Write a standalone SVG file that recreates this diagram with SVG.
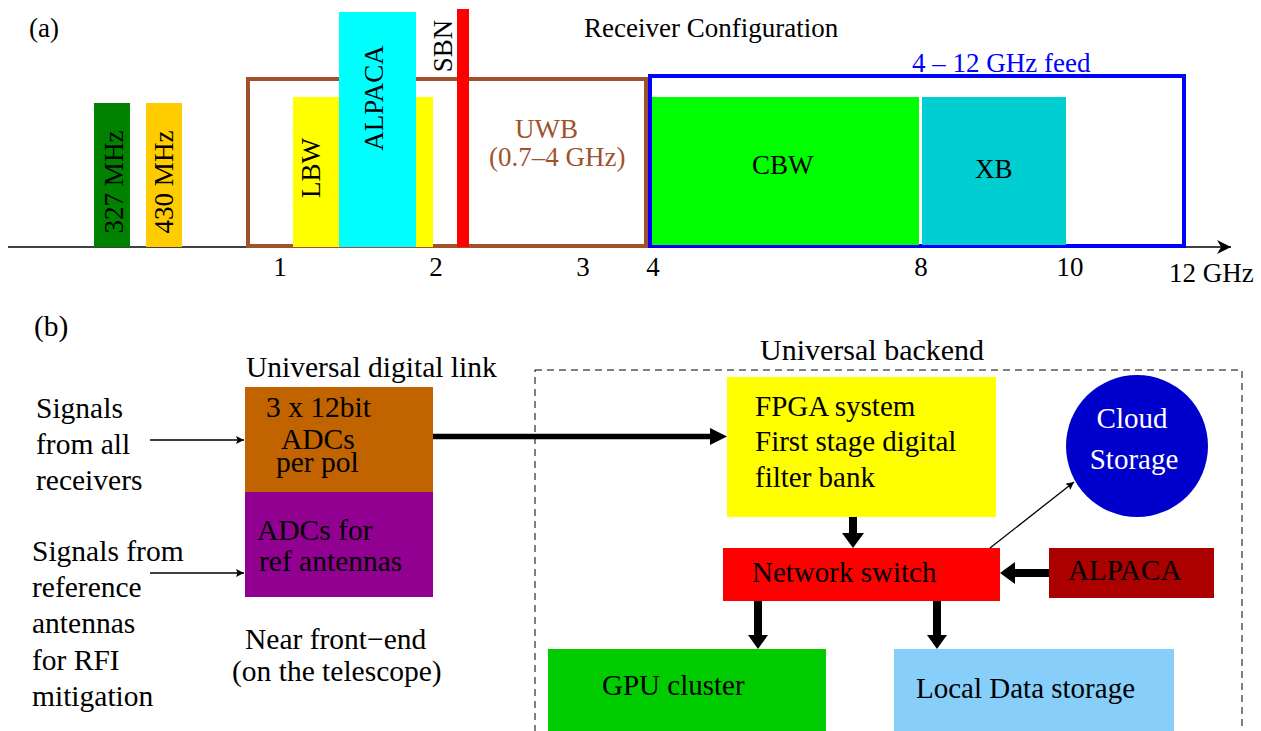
<svg xmlns="http://www.w3.org/2000/svg" width="1261" height="731" viewBox="0 0 1261 731" font-family="'Liberation Serif','Times New Roman',serif">
<defs>
<style>
text{font-family:"Liberation Serif","Times New Roman",serif;fill:#000}
.a{font-size:27px}
.b{font-size:29.5px}
.c{font-size:29px}
.thin{stroke:#000;stroke-width:1.3;fill:none}
.thick{stroke:#000;fill:none}
.head{fill:#000}
</style>
<marker id="ah" viewBox="0 0 10 10" refX="10" refY="5" markerWidth="11" markerHeight="8" markerUnits="userSpaceOnUse" orient="auto"><path d="M0,0 L10,5 L0,10 L2,5 Z" fill="#000"/></marker>
<marker id="ax" viewBox="0 0 10 10" refX="10" refY="5" markerWidth="25" markerHeight="14" markerUnits="userSpaceOnUse" orient="auto"><path d="M0,0 L10,5 L0,10 L3,5 Z" fill="#000"/></marker>
</defs>

<!-- (a) Receiver configuration -->
<g id="panel-a">
<text class="a" x="29" y="37">(a)</text>
<text class="a" x="584" y="37">Receiver Configuration</text>
<line x1="8" y1="247" x2="1231" y2="247" stroke="#000" stroke-width="1.5" marker-end="url(#ax)"/>
</g>
<g id="b327"><rect x="94" y="103" width="36" height="144" fill="#008200"/><text class="a" transform="translate(123,182) rotate(-90)" text-anchor="middle">327 MHz</text></g>
<g id="b430"><rect x="146" y="103" width="36" height="144" fill="#ffcc00"/><text class="a" transform="translate(173,182) rotate(-90)" text-anchor="middle">430 MHz</text></g>
<g id="uwb"><rect x="248" y="79" width="398" height="167" fill="none" stroke="#a0522d" stroke-width="4"/>
<text class="a" x="515" y="138" style="fill:#a0522d">UWB</text>
<text class="a" x="489" y="166" style="fill:#a0522d">(0.7–4 GHz)</text></g>
<g id="lbw"><rect x="293" y="97" width="140" height="150" fill="#ffff00"/><text class="a" transform="translate(320,168) rotate(-90)" text-anchor="middle">LBW</text></g>
<g id="alpaca-a"><rect x="339" y="12" width="77" height="235" fill="#00ffff"/><text class="a" transform="translate(383,98) rotate(-90)" text-anchor="middle">ALPACA</text></g>
<g id="sbn"><rect x="457" y="9" width="12" height="238" fill="#ff0000"/><text class="a" transform="translate(452,46) rotate(-90)" text-anchor="middle">SBN</text></g>
<g id="feed"><rect x="650" y="76" width="534" height="170" fill="none" stroke="#0000ff" stroke-width="4"/>
<text class="a" x="912" y="72" style="fill:#0000ff">4 – 12 GHz feed</text></g>
<g id="cbw"><rect x="652" y="97" width="267" height="148" fill="#00ff00"/><text class="a" x="752" y="174">CBW</text></g>
<g id="xb"><rect x="922" y="97" width="144" height="148" fill="#00ced1"/><text class="a" x="975" y="178">XB</text></g>
<g id="ticks">
<text class="a" x="280" y="276" text-anchor="middle">1</text>
<text class="a" x="436" y="276" text-anchor="middle">2</text>
<text class="a" x="583" y="276" text-anchor="middle">3</text>
<text class="a" x="653" y="276" text-anchor="middle">4</text>
<text class="a" x="921" y="276" text-anchor="middle">8</text>
<text class="a" x="1070" y="276" text-anchor="middle">10</text>
<text class="a" x="1169" y="282">12 GHz</text>
</g>

<!-- (b) -->
<g id="labels-b">
<text class="b" x="34" y="336">(b)</text>
<text class="b" x="36" y="418">Signals</text>
<text class="b" x="36" y="454">from all</text>
<text class="b" x="36" y="490">receivers</text>
<text class="b" x="32" y="561">Signals from</text>
<text class="b" x="32" y="597">reference</text>
<text class="b" x="32" y="633">antennas</text>
<text class="b" x="32" y="670">for RFI</text>
<text class="b" x="32" y="706">mitigation</text>
<text class="b" x="246" y="377">Universal digital link</text>
<text class="b" x="245" y="649">Near front−end</text>
<text class="b" x="232" y="681">(on the telescope)</text>
</g>
<g id="adc"><rect x="245" y="387" width="188" height="105" fill="#c16400"/>
<text class="b" x="266" y="417">3 x 12bit</text>
<text class="b" x="281" y="449">ADCs</text>
<text class="b" x="276" y="472">per pol</text></g>
<g id="refadc"><rect x="245" y="492" width="188" height="105" fill="#920092"/>
<text class="b" x="257" y="540">ADCs for</text>
<text class="b" x="259" y="571">ref antennas</text></g>
<g id="backend"><rect x="535" y="370" width="707" height="380" fill="none" stroke="#000" stroke-width="1" stroke-dasharray="7,5"/>
<text x="760" y="360" font-size="30">Universal backend</text></g>
<g id="fpga"><rect x="727" y="377" width="269" height="140" fill="#ffff00"/>
<text class="c" x="755" y="416">FPGA system</text>
<text class="c" x="755" y="451">First stage digital</text>
<text class="c" x="755" y="487">filter bank</text></g>
<g id="cloud"><ellipse cx="1137" cy="446" rx="71" ry="71" fill="#0000cd"/>
<text class="c" x="1132" y="428" text-anchor="middle" style="fill:#fff">Cloud</text>
<text class="c" x="1134" y="469" text-anchor="middle" style="fill:#fff">Storage</text></g>
<g id="switch"><rect x="723" y="548" width="277" height="53" fill="#ff0000"/>
<text class="c" x="752" y="582">Network switch</text></g>
<g id="alpaca-b"><rect x="1049" y="548" width="165" height="50" fill="#aa0000"/>
<text class="c" x="1068" y="580">ALPACA</text></g>
<g id="gpu"><rect x="548" y="649" width="278" height="90" fill="#00cc00"/>
<text class="c" x="602" y="695">GPU cluster</text></g>
<g id="local"><rect x="894" y="649" width="280" height="90" fill="#87cefa"/>
<text class="c" x="916" y="698">Local Data storage</text></g>

<g id="connectors">
<line class="thin" x1="150" y1="440" x2="244" y2="440" marker-end="url(#ah)"/>
<line class="thin" x1="150" y1="573" x2="244" y2="573" marker-end="url(#ah)"/>
<line class="thin" x1="990" y1="548" x2="1074" y2="482" marker-end="url(#ah)"/>
<line class="thick" x1="433" y1="436.5" x2="712" y2="436.5" stroke-width="5.5"/>
<polygon class="head" points="710,428 727,436.5 710,445"/>
<line class="thick" x1="853" y1="517" x2="853" y2="534" stroke-width="8"/>
<polygon class="head" points="842,533 864,533 853,548"/>
<line class="thick" x1="1049" y1="573" x2="1014" y2="573" stroke-width="8"/>
<polygon class="head" points="1015,562 1015,584 1000,573"/>
<line class="thick" x1="758" y1="601" x2="758" y2="636" stroke-width="8"/>
<polygon class="head" points="748,635 768,635 758,649"/>
<line class="thick" x1="937" y1="601" x2="937" y2="636" stroke-width="8"/>
<polygon class="head" points="927,635 947,635 937,649"/>
</g>
</svg>
